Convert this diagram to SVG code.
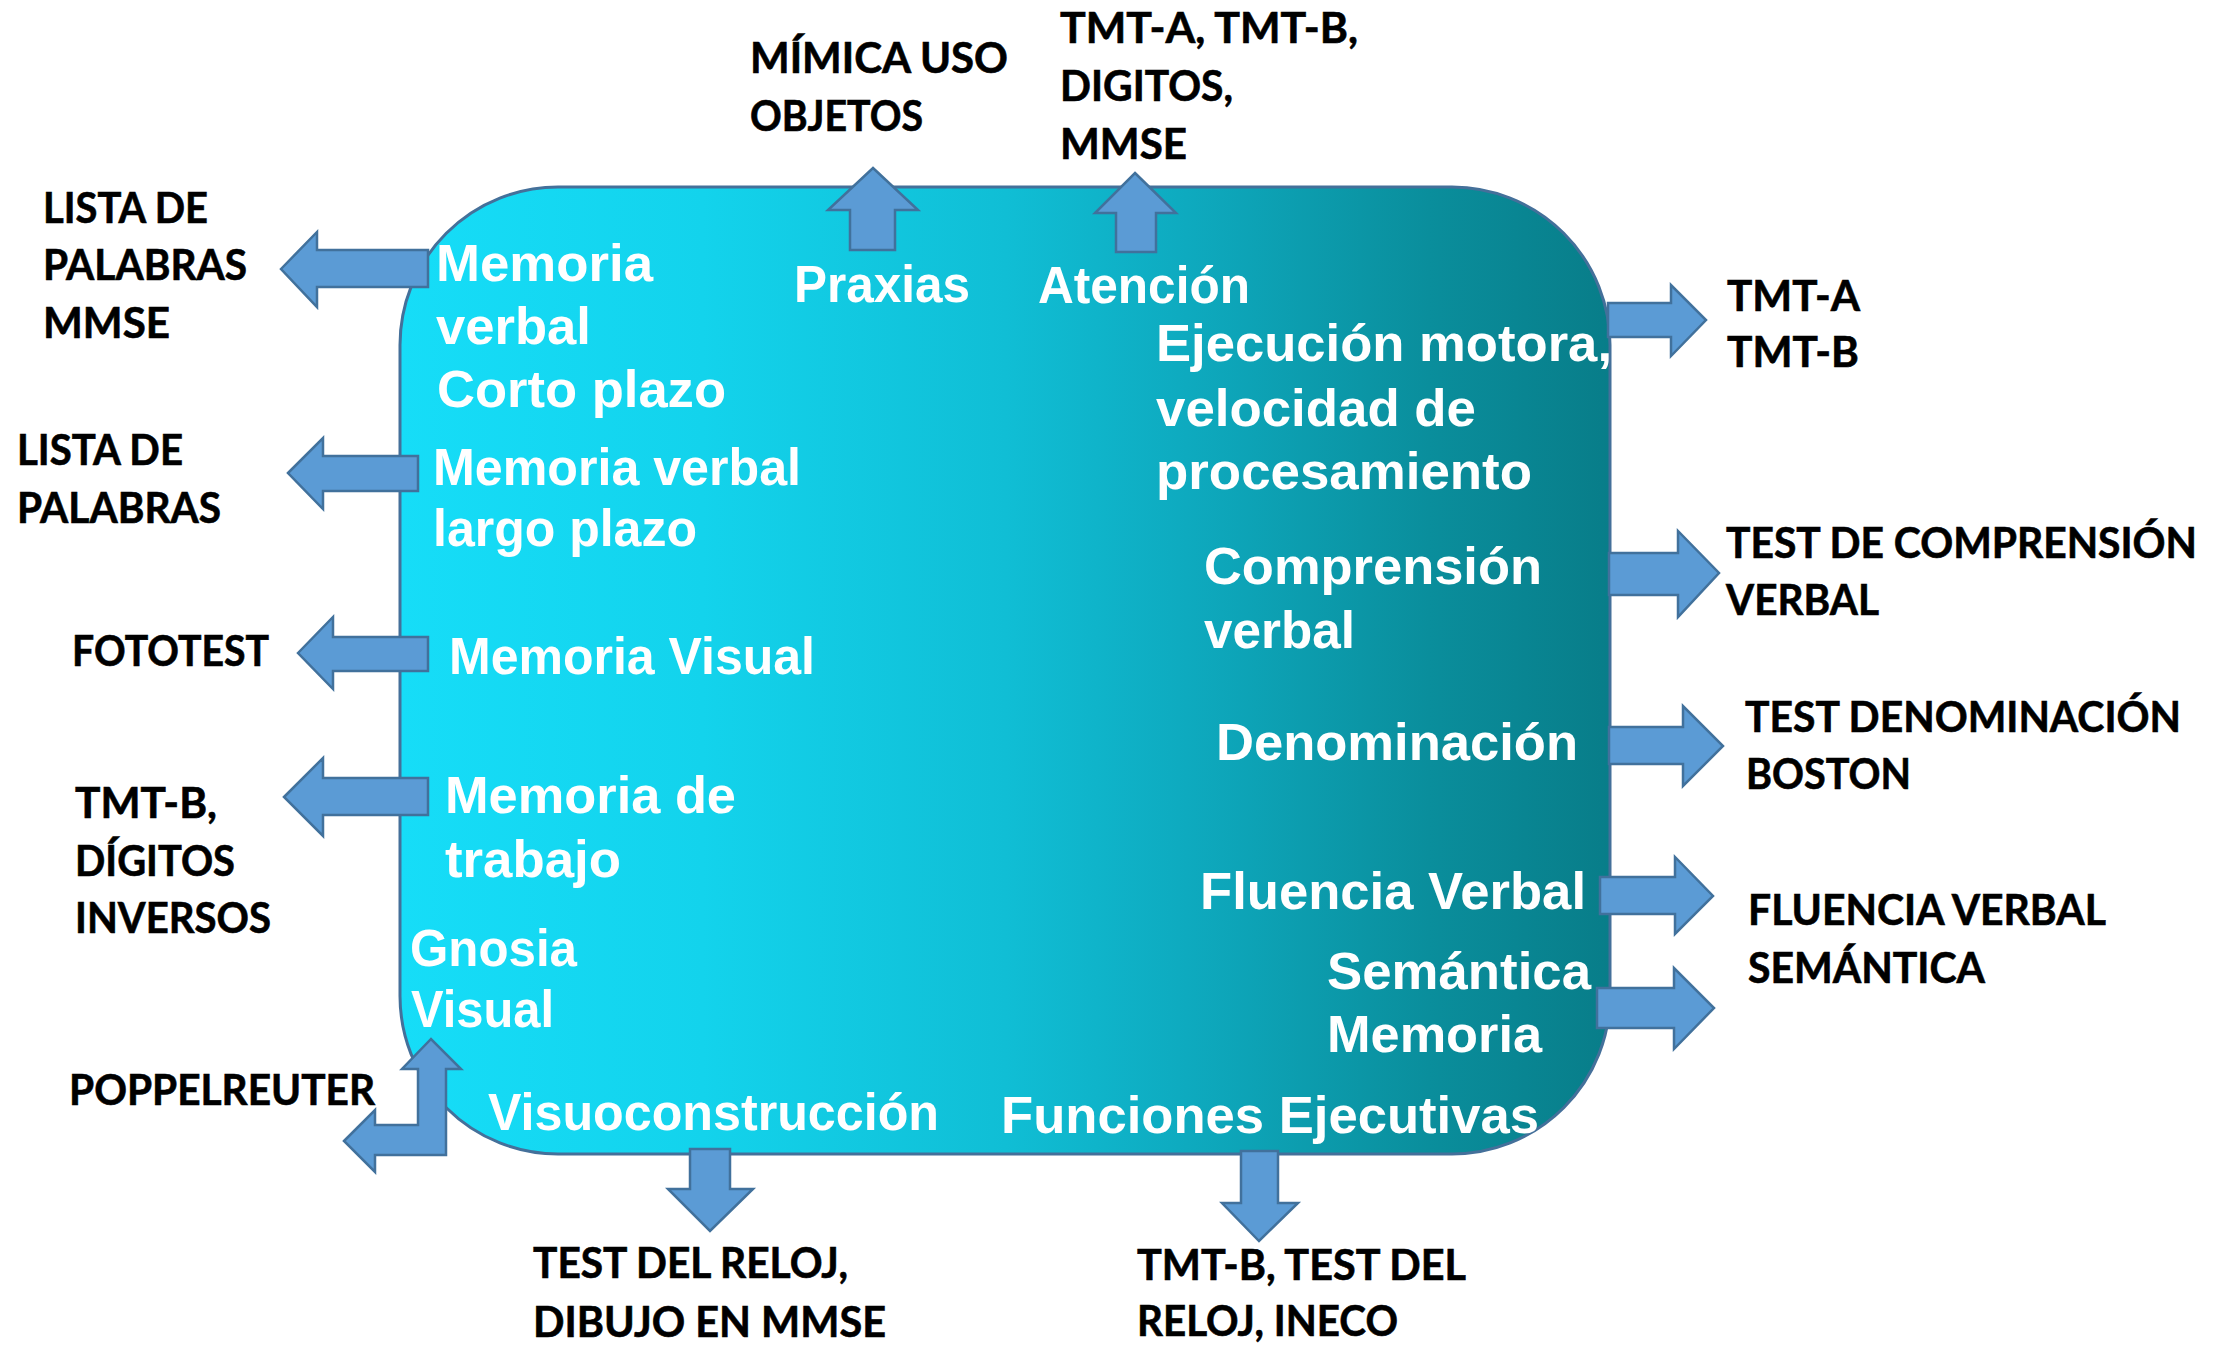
<svg xmlns="http://www.w3.org/2000/svg" width="2228" height="1354" viewBox="0 0 2228 1354">
<style>
.w{font-family:"Liberation Sans",Arial,sans-serif;font-weight:bold;font-size:52px;fill:#ffffff}
.k{font-family:Lato,"Liberation Sans",sans-serif;font-weight:bold;font-size:42px;fill:#000000;stroke:#000000;stroke-width:0.6}
.ar{fill:#5B9BD5;stroke:#41719C;stroke-width:2.5;stroke-linejoin:miter}
</style>
<defs>
<linearGradient id="bg" gradientUnits="userSpaceOnUse" x1="400" y1="0" x2="1611" y2="0">
<stop offset="0" stop-color="#16DDF8"/>
<stop offset="0.25" stop-color="#13D3EC"/>
<stop offset="0.5" stop-color="#10BED5"/>
<stop offset="0.65" stop-color="#0EAABF"/>
<stop offset="0.85" stop-color="#0A8E9C"/>
<stop offset="1" stop-color="#087D89"/>
</linearGradient>
</defs>
<rect width="2228" height="1354" fill="#ffffff"/>
<g id="main">
<rect x="400" y="187" width="1210" height="967" rx="158" ry="158" fill="url(#bg)" stroke="#44709A" stroke-width="3"/>
</g>
<g id="connectors">
<polygon class="ar" points="281,269 317,232 317,250 428,250 428,287 317,287 317,307"/>
<polygon class="ar" points="288,473 323,438 323,456 418,456 418,491 323,491 323,509"/>
<polygon class="ar" points="298,653 333,617 333,637 428,637 428,671 333,671 333,689"/>
<polygon class="ar" points="284,797 323,758 323,778 428,778 428,815 323,815 323,836"/>
<polygon class="ar" points="344,1141 375,1110 375,1125 418,1125 418,1069 402,1069 431,1039 461,1069 446,1069 446,1155 375,1155 375,1172"/>
<polygon class="ar" points="873,168 918,210 895,210 895,250 850,250 850,210 828,210"/>
<polygon class="ar" points="1135,173 1176,213 1156,213 1156,252 1116,252 1116,213 1095,213"/>
<polygon class="ar" points="690,1149 730,1149 730,1189 753,1189 710,1231 668,1189 690,1189"/>
<polygon class="ar" points="1241,1151 1278,1151 1278,1203 1298,1203 1259,1241 1222,1203 1241,1203"/>
<polygon class="ar" points="1608,303 1671,303 1671,285 1706,320 1671,356 1671,337 1608,337"/>
<polygon class="ar" points="1609,553 1678,553 1678,531 1719,573 1678,617 1678,595 1609,595"/>
<polygon class="ar" points="1609,727 1683,727 1683,706 1723,746 1683,786 1683,764 1609,764"/>
<polygon class="ar" points="1600,877 1675,877 1675,857 1713,896 1675,934 1675,914 1600,914"/>
<polygon class="ar" points="1597,988 1674,988 1674,968 1714,1008 1674,1049 1674,1028 1597,1028"/>
</g>
<g id="domain-labels">
<g id="memoria-verbal-corto">
<text class="w" x="436" y="281" textLength="217" lengthAdjust="spacingAndGlyphs">Memoria</text>
<text class="w" x="436" y="344" textLength="155" lengthAdjust="spacingAndGlyphs">verbal</text>
<text class="w" x="437" y="407" textLength="289" lengthAdjust="spacingAndGlyphs">Corto plazo</text>
</g>
<g id="memoria-verbal-largo">
<text class="w" x="433" y="485" textLength="368" lengthAdjust="spacingAndGlyphs">Memoria verbal</text>
<text class="w" x="433" y="546" textLength="264" lengthAdjust="spacingAndGlyphs">largo plazo</text>
</g>
<g id="memoria-visual">
<text class="w" x="449" y="674" textLength="366" lengthAdjust="spacingAndGlyphs">Memoria Visual</text>
</g>
<g id="memoria-trabajo">
<text class="w" x="445" y="813" textLength="291" lengthAdjust="spacingAndGlyphs">Memoria de</text>
<text class="w" x="445" y="877" textLength="176" lengthAdjust="spacingAndGlyphs">trabajo</text>
</g>
<g id="gnosia-visual">
<text class="w" x="410" y="966" textLength="167" lengthAdjust="spacingAndGlyphs">Gnosia</text>
<text class="w" x="411" y="1027" textLength="143" lengthAdjust="spacingAndGlyphs">Visual</text>
</g>
<g id="visuoconstruccion">
<text class="w" x="488" y="1130" textLength="451" lengthAdjust="spacingAndGlyphs">Visuoconstrucción</text>
</g>
<g id="praxias">
<text class="w" x="794" y="302" textLength="176" lengthAdjust="spacingAndGlyphs">Praxias</text>
</g>
<g id="atencion">
<text class="w" x="1038" y="303" textLength="212" lengthAdjust="spacingAndGlyphs">Atención</text>
</g>
<g id="ejecucion-motora">
<text class="w" x="1156" y="361" textLength="456" lengthAdjust="spacingAndGlyphs">Ejecución motora,</text>
<text class="w" x="1156" y="426" textLength="320" lengthAdjust="spacingAndGlyphs">velocidad de</text>
<text class="w" x="1156" y="489" textLength="376" lengthAdjust="spacingAndGlyphs">procesamiento</text>
</g>
<g id="comprension-verbal">
<text class="w" x="1204" y="584" textLength="338" lengthAdjust="spacingAndGlyphs">Comprensión</text>
<text class="w" x="1204" y="648" textLength="151" lengthAdjust="spacingAndGlyphs">verbal</text>
</g>
<g id="denominacion">
<text class="w" x="1216" y="760" textLength="362" lengthAdjust="spacingAndGlyphs">Denominación</text>
</g>
<g id="fluencia-verbal">
<text class="w" x="1200" y="909" textLength="386" lengthAdjust="spacingAndGlyphs">Fluencia Verbal</text>
</g>
<g id="semantica-memoria">
<text class="w" x="1327" y="989" textLength="264" lengthAdjust="spacingAndGlyphs">Semántica</text>
<text class="w" x="1327" y="1052" textLength="215" lengthAdjust="spacingAndGlyphs">Memoria</text>
</g>
<g id="funciones-ejecutivas">
<text class="w" x="1001" y="1133" textLength="538" lengthAdjust="spacingAndGlyphs">Funciones Ejecutivas</text>
</g>
</g>
<g id="test-labels">
<g id="t-lista-mmse">
<text class="k" x="43" y="223" textLength="165" lengthAdjust="spacingAndGlyphs">LISTA DE</text>
<text class="k" x="43" y="280" textLength="204" lengthAdjust="spacingAndGlyphs">PALABRAS</text>
<text class="k" x="43" y="338" textLength="127" lengthAdjust="spacingAndGlyphs">MMSE</text>
</g>
<g id="t-lista">
<text class="k" x="17" y="465" textLength="166" lengthAdjust="spacingAndGlyphs">LISTA DE</text>
<text class="k" x="17" y="523" textLength="204" lengthAdjust="spacingAndGlyphs">PALABRAS</text>
</g>
<g id="t-fototest">
<text class="k" x="72" y="666" textLength="197" lengthAdjust="spacingAndGlyphs">FOTOTEST</text>
</g>
<g id="t-digitos-inversos">
<text class="k" x="75" y="818" textLength="142" lengthAdjust="spacingAndGlyphs">TMT-B,</text>
<text class="k" x="75" y="876" textLength="160" lengthAdjust="spacingAndGlyphs">DÍGITOS</text>
<text class="k" x="75" y="933" textLength="196" lengthAdjust="spacingAndGlyphs">INVERSOS</text>
</g>
<g id="t-poppelreuter">
<text class="k" x="69" y="1105" textLength="306" lengthAdjust="spacingAndGlyphs">POPPELREUTER</text>
</g>
<g id="t-reloj-mmse">
<text class="k" x="533" y="1278" textLength="315" lengthAdjust="spacingAndGlyphs">TEST DEL RELOJ,</text>
<text class="k" x="533" y="1337" textLength="353" lengthAdjust="spacingAndGlyphs">DIBUJO EN MMSE</text>
</g>
<g id="t-mimica">
<text class="k" x="750" y="73" textLength="258" lengthAdjust="spacingAndGlyphs">MÍMICA USO</text>
<text class="k" x="750" y="131" textLength="173" lengthAdjust="spacingAndGlyphs">OBJETOS</text>
</g>
<g id="t-atencion">
<text class="k" x="1060" y="43" textLength="298" lengthAdjust="spacingAndGlyphs">TMT-A, TMT-B,</text>
<text class="k" x="1060" y="101" textLength="173" lengthAdjust="spacingAndGlyphs">DIGITOS,</text>
<text class="k" x="1060" y="159" textLength="127" lengthAdjust="spacingAndGlyphs">MMSE</text>
</g>
<g id="t-tmt">
<text class="k" x="1727" y="311" textLength="133" lengthAdjust="spacingAndGlyphs">TMT-A</text>
<text class="k" x="1727" y="367" textLength="132" lengthAdjust="spacingAndGlyphs">TMT-B</text>
</g>
<g id="t-comprension">
<text class="k" x="1726" y="558" textLength="471" lengthAdjust="spacingAndGlyphs">TEST DE COMPRENSIÓN</text>
<text class="k" x="1726" y="615" textLength="153" lengthAdjust="spacingAndGlyphs">VERBAL</text>
</g>
<g id="t-boston">
<text class="k" x="1745" y="732" textLength="436" lengthAdjust="spacingAndGlyphs">TEST DENOMINACIÓN</text>
<text class="k" x="1746" y="789" textLength="165" lengthAdjust="spacingAndGlyphs">BOSTON</text>
</g>
<g id="t-fluencia">
<text class="k" x="1748" y="925" textLength="358" lengthAdjust="spacingAndGlyphs">FLUENCIA VERBAL</text>
<text class="k" x="1748" y="983" textLength="237" lengthAdjust="spacingAndGlyphs">SEMÁNTICA</text>
</g>
<g id="t-ejecutivas">
<text class="k" x="1137" y="1280" textLength="329" lengthAdjust="spacingAndGlyphs">TMT-B, TEST DEL</text>
<text class="k" x="1137" y="1336" textLength="261" lengthAdjust="spacingAndGlyphs">RELOJ, INECO</text>
</g>
</g>
</svg>
